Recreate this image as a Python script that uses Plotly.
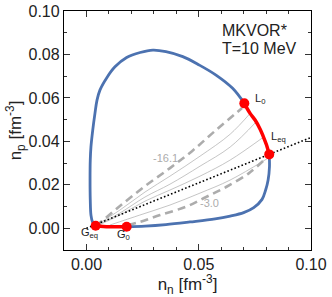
import plotly.graph_objects as go

# Blue boundary: from G_eq up the left side, over the top, down to L_0
blue_a_x = [0.0041, 0.0027, 0.0020, 0.0017, 0.0016, 0.0017, 0.0020, 0.0028, 0.0038, 0.0047, 0.0060,
            0.0090, 0.0127, 0.0179, 0.0239, 0.0296, 0.0354, 0.0429, 0.0503, 0.0577, 0.0651, 0.0703]
blue_a_y = [0.0012, 0.0029, 0.0061, 0.0130, 0.0222, 0.0314, 0.0375, 0.0452, 0.0530, 0.0590, 0.0636,
            0.0692, 0.0743, 0.0786, 0.0809, 0.0820, 0.0813, 0.0790, 0.0751, 0.0705, 0.0644, 0.0575]
# Blue boundary: from L_eq down the right side, along the bottom to G_0
blue_b_x = [0.0814, 0.0815, 0.0809, 0.0798, 0.0782, 0.0745, 0.0700, 0.0640, 0.0573, 0.0461, 0.0354, 0.0261, 0.0179]
blue_b_y = [0.0340, 0.0282, 0.0222, 0.0176, 0.0133, 0.0095, 0.0072, 0.0056, 0.0043, 0.0029, 0.0017, 0.0010, 0.0007]

# Red segments
red_L_x = [0.0703, 0.0728, 0.0751, 0.0773, 0.0788, 0.0802, 0.0814]
red_L_y = [0.0575, 0.0530, 0.0498, 0.0457, 0.0421, 0.0383, 0.0340]
red_G_x = [0.0041, 0.0075, 0.0120, 0.0179]
red_G_y = [0.0012, 0.0008, 0.0007, 0.0007]

# Points
pt_names = ["L<sub>0</sub>", "L<sub>eq</sub>", "G<sub>eq</sub>", "G<sub>0</sub>"]
pt_x = [0.0703, 0.0814, 0.0041, 0.0179]
pt_y = [0.0575, 0.0340, 0.0012, 0.0007]
lab_x = [0.0742, 0.0813, 0.0012, 0.0166]
lab_y = [0.0597, 0.0420, -0.0020, -0.0030]

# Dashed trajectories
dash_up_x = [0.0043, 0.0069, 0.0149, 0.0261, 0.0372, 0.0470, 0.0577, 0.0693]
dash_up_y = [0.0010, 0.0033, 0.0102, 0.0194, 0.0277, 0.0355, 0.0452, 0.0553]
dash_lo_x = [0.0185, 0.0238, 0.0328, 0.0443, 0.0533, 0.0622, 0.0724, 0.0791]
dash_lo_y = [0.0015, 0.0029, 0.0061, 0.0099, 0.0144, 0.0190, 0.0254, 0.0314]

# Thin trajectories
thin1_x = [0.0051, 0.0149, 0.0261, 0.0372, 0.0506, 0.0640, 0.0728]
thin1_y = [0.0019, 0.0084, 0.0167, 0.0240, 0.0332, 0.0433, 0.0528]
thin2_x = [0.0051, 0.0149, 0.0261, 0.0372, 0.0506, 0.0640, 0.0755]
thin2_y = [0.0015, 0.0070, 0.0144, 0.0203, 0.0286, 0.0374, 0.0489]
thin3_x = [0.0056, 0.0149, 0.0261, 0.0372, 0.0506, 0.0640, 0.0789]
thin3_y = [0.0015, 0.0061, 0.0125, 0.0176, 0.0240, 0.0314, 0.0420]
thin4_x = [0.0105, 0.0238, 0.0372, 0.0506, 0.0640, 0.0809]
thin4_y = [0.0015, 0.0061, 0.0107, 0.0162, 0.0222, 0.0323]

# Dotted straight line
dot_x = [0.0, 0.1]
dot_y = [0.0, 0.0418]

FONT = "Liberation Sans, Arial, sans-serif"
BLUE = "#4c72b0"
GRAY = "#acacac"

fig = go.Figure()
for tx, ty in [(thin1_x, thin1_y), (thin2_x, thin2_y), (thin3_x, thin3_y), (thin4_x, thin4_y)]:
    fig.add_trace(go.Scatter(x=tx, y=ty, mode="lines", line=dict(color=GRAY, width=0.7, shape="spline")))
for tx, ty in [(dash_up_x, dash_up_y), (dash_lo_x, dash_lo_y)]:
    fig.add_trace(go.Scatter(x=tx, y=ty, mode="lines",
                             line=dict(color=GRAY, width=2.6, dash="8px,5px", shape="spline")))
fig.add_trace(go.Scatter(x=dot_x, y=dot_y, mode="lines", line=dict(color="black", width=1.6, dash="1.6px,2.2px")))
fig.add_trace(go.Scatter(x=blue_a_x, y=blue_a_y, mode="lines", line=dict(color=BLUE, width=2.8, shape="spline")))
fig.add_trace(go.Scatter(x=blue_b_x, y=blue_b_y, mode="lines", line=dict(color=BLUE, width=2.8, shape="spline")))
fig.add_trace(go.Scatter(x=red_L_x, y=red_L_y, mode="lines", line=dict(color="red", width=3.5, shape="spline")))
fig.add_trace(go.Scatter(x=red_G_x, y=red_G_y, mode="lines", line=dict(color="red", width=3.5, shape="spline")))
fig.add_trace(go.Scatter(x=pt_x, y=pt_y, mode="markers", marker=dict(color="red", size=10)))

for name, lx, ly in zip(pt_names, lab_x, lab_y):
    xa = "left" if name.startswith("L") else "center"
    fig.add_annotation(x=lx, y=ly, text=name, showarrow=False, xanchor=xa, yanchor="middle",
                       font=dict(family=FONT, size=11, color="#222222"))

fig.add_annotation(x=0.0354, y=0.0323, text="-16.1", showarrow=False,
                   font=dict(family=FONT, size=11, color=GRAY))
fig.add_annotation(x=0.0550, y=0.0116, text="-3.0", showarrow=False,
                   font=dict(family=FONT, size=11, color=GRAY))
fig.add_annotation(x=0.0595, y=0.0908, text="MKVOR*", showarrow=False, xanchor="left",
                   font=dict(family=FONT, size=16, color="#222222"))
fig.add_annotation(x=0.0595, y=0.0829, text="T=10 MeV", showarrow=False, xanchor="left",
                   font=dict(family=FONT, size=16, color="#222222"))

axis_common = dict(showline=True, linecolor="black", linewidth=1.3, mirror="ticks",
                   ticks="inside", ticklen=6, tickwidth=1, tickcolor="#333333",
                   showgrid=False, zeroline=False, automargin=False,
                   tickfont=dict(family=FONT, size=16, color="#222222"))

fig.update_xaxes(range=[-0.01, 0.10], tickvals=[0.0, 0.05, 0.10], ticktext=["0.00", "0.05", "0.10"],
                 minor=dict(dtick=0.01, tick0=0, ticks="inside", ticklen=3, tickcolor="#333333"),
                 title=dict(text="n<sub>n</sub> [fm<sup>-3</sup>]", standoff=4,
                            font=dict(family=FONT, size=17, color="#222222")),
                 **axis_common)
fig.update_yaxes(range=[-0.01, 0.10], tickvals=[0.0, 0.02, 0.04, 0.06, 0.08, 0.10],
                 ticktext=["0.00", "0.02", "0.04", "0.06", "0.08", "0.10"],
                 minor=dict(dtick=0.01, tick0=0, ticks="inside", ticklen=3, tickcolor="#333333"),
                 title=dict(text="n<sub>p</sub> [fm<sup>-3</sup>]", standoff=2,
                            font=dict(family=FONT, size=17, color="#222222")),
                 **axis_common)

fig.update_layout(width=332, height=297, margin=dict(l=64, r=21, t=11, b=47),
                  paper_bgcolor="white", plot_bgcolor="white", showlegend=False)

fig.write_html("out.html", config={"displayModeBar": False},
               post_script="document.body.style.margin='0px';document.body.style.padding='0px';")
